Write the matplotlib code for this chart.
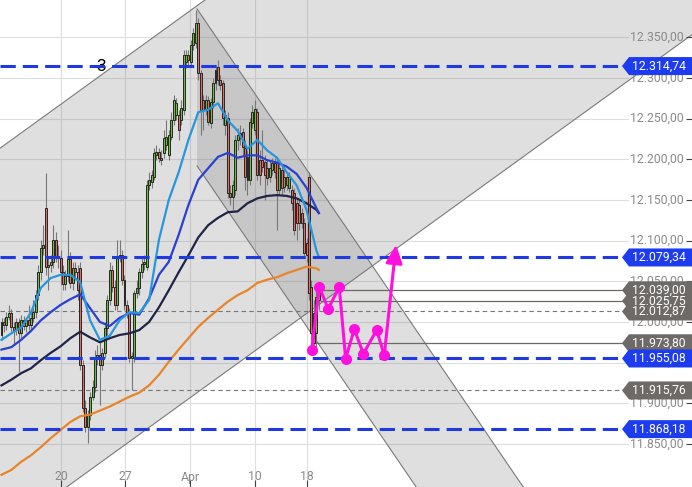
import matplotlib
matplotlib.use("Agg")
import matplotlib.pyplot as plt
from matplotlib.patches import Polygon
from matplotlib.transforms import blended_transform_factory

plt.rcParams['font.family'] = ['Roboto', 'DejaVu Sans']

# --- candles (one bar per index) ---
opens = [11984, 12000, 11996, 12006, 12011, 11994, 11990, 12000, 11986, 12002,
         11995, 12002, 11996, 12005, 12012, 12033, 12061, 12091, 12140, 12068,
         12070, 12074, 12101, 12081, 12079, 12061, 12047, 12057, 12077, 12048,
         12066, 12061, 12066, 11947, 11894, 11871, 11886, 11908, 11920, 11956,
         11959, 11947, 11962, 11993, 12027, 12064, 12043, 12021, 12080, 12082,
         12052, 12021, 12011, 11956, 11956, 12036, 12042, 12061, 12071, 12068,
         12168, 12172, 12178, 12205, 12209, 12202, 12208, 12218, 12205, 12227,
         12248, 12255, 12255, 12248, 12261, 12320, 12328, 12320, 12341, 12343,
         12368, 12306, 12273, 12261, 12273, 12245, 12271, 12294, 12314, 12298,
         12294, 12242, 12251, 12159, 12154, 12162, 12224, 12232, 12234, 12214,
         12203, 12175, 12245, 12236, 12258, 12199, 12199, 12197, 12189, 12178,
         12187, 12196, 12196, 12162, 12187, 12166, 12178, 12165, 12162, 12159,
         12146, 12144, 12134, 12122, 12097, 12178, 12043, 12011, 11986, 12027]
closes = [12000, 11996, 12006, 12011, 11994, 11990, 12000, 11986, 12002, 11995,
          12002, 11996, 12005, 12012, 12033, 12061, 12091, 12095, 12068, 12070,
          12074, 12101, 12081, 12079, 12061, 12047, 12057, 12077, 12048, 12066,
          12061, 12039, 11947, 11894, 11871, 11886, 11908, 11920, 11956, 11959,
          11947, 11962, 11993, 12027, 12064, 12043, 12021, 12080, 12082, 12052,
          12021, 12011, 11956, 11958, 12036, 12042, 12061, 12071, 12074, 12168,
          12175, 12181, 12208, 12209, 12202, 12199, 12226, 12227, 12230, 12248,
          12273, 12269, 12236, 12263, 12328, 12328, 12322, 12341, 12355, 12368,
          12306, 12261, 12261, 12273, 12246, 12271, 12294, 12310, 12298, 12291,
          12251, 12255, 12159, 12154, 12168, 12224, 12230, 12226, 12215, 12178,
          12175, 12246, 12258, 12262, 12181, 12181, 12191, 12181, 12177, 12189,
          12196, 12184, 12162, 12189, 12165, 12178, 12168, 12178, 12146, 12113,
          12122, 12122, 12122, 12085, 12082, 12036, 11986, 11974, 12031, 12039]
highs = [12005, 12005, 12012, 12021, 12016, 12000, 12005, 12005, 12009, 12007,
         12005, 12021, 12012, 12027, 12039, 12070, 12101, 12119, 12183, 12079,
         12082, 12119, 12111, 12095, 12088, 12070, 12064, 12113, 12086, 12074,
         12074, 12070, 12074, 11953, 11904, 11892, 11914, 11929, 11966, 11972,
         11975, 11968, 12000, 12033, 12074, 12070, 12052, 12101, 12101, 12088,
         12058, 12027, 12017, 11963, 12039, 12052, 12066, 12079, 12082, 12175,
         12184, 12187, 12214, 12218, 12214, 12211, 12236, 12248, 12236, 12258,
         12279, 12275, 12261, 12273, 12334, 12334, 12334, 12347, 12362, 12384,
         12374, 12310, 12279, 12279, 12278, 12275, 12300, 12316, 12322, 12304,
         12298, 12261, 12258, 12168, 12175, 12230, 12239, 12242, 12239, 12224,
         12211, 12251, 12267, 12273, 12263, 12211, 12236, 12205, 12199, 12199,
         12202, 12202, 12202, 12199, 12193, 12187, 12184, 12184, 12168, 12165,
         12153, 12150, 12140, 12128, 12103, 12184, 12052, 12027, 12039, 12045]
lows = [11978, 11988, 11990, 12002, 11988, 11972, 11984, 11938, 11980, 11990,
        11988, 11990, 11990, 12000, 12005, 12027, 12052, 12082, 12058, 12039,
        12061, 12066, 12074, 12066, 12045, 12039, 12039, 12049, 12042, 12039,
        12052, 12027, 11941, 11889, 11865, 11851, 11879, 11904, 11914, 11947,
        11898, 11941, 11956, 11984, 12021, 12037, 12015, 12015, 12074, 12045,
        12015, 12005, 11951, 11916, 11951, 12029, 12033, 12054, 12064, 12064,
        12162, 12165, 12175, 12199, 12197, 12193, 12202, 12211, 12199, 12224,
        12242, 12248, 12224, 12242, 12255, 12312, 12316, 12315, 12334, 12337,
        12298, 12230, 12236, 12255, 12242, 12239, 12263, 12285, 12291, 12285,
        12242, 12230, 12153, 12144, 12138, 12156, 12211, 12218, 12205, 12162,
        12156, 12168, 12239, 12230, 12175, 12168, 12184, 12150, 12168, 12172,
        12181, 12177, 12113, 12156, 12156, 12160, 12162, 12160, 12138, 12107,
        12101, 12113, 12116, 12079, 12074, 12027, 11978, 11966, 11968, 12015]

# --- moving averages, read every 4 bars ---
ma_idx = list(range(0, 129, 4)) + [129]
ma_fast = [11978, 11986, 11993, 12012, 12042, 12054, 12058, 12058, 12049, 12002,
           11978, 11983, 12002, 12012, 12011, 12027, 12101, 12150, 12184, 12224,
           12258, 12261, 12269, 12248, 12235, 12213, 12224, 12211, 12202, 12184,
           12168, 12138, 12088, 12080]
ma_mid = [11966, 11969, 11978, 11989, 12002, 12012, 12021, 12028, 12034, 12017,
          12000, 11995, 12005, 12011, 12009, 12029, 12058, 12074, 12107, 12144,
          12175, 12189, 12203, 12208, 12202, 12205, 12205, 12199, 12196, 12191,
          12182, 12165, 12140, 12134]
ma_slow = [11922, 11929, 11937, 11943, 11953, 11962, 11970, 11980, 11988, 11981,
           11975, 11980, 11984, 11986, 11990, 12000, 12018, 12039, 12061, 12082,
           12104, 12119, 12128, 12135, 12136, 12146, 12152, 12155, 12156, 12155,
           12152, 12146, 12138, 12134]
ma_long = [11812, 11818, 11828, 11836, 11846, 11857, 11867, 11877, 11884, 11886,
           11891, 11896, 11902, 11908, 11913, 11922, 11935, 11951, 11966, 11980,
           11994, 12005, 12015, 12025, 12033, 12039, 12048, 12052, 12055, 12060,
           12064, 12068, 12066, 12064]

date_pos = [24.2, 50.2, 76.6, 103.0, 124.2]
date_labels = ['20', '27', 'Apr', '10', '18']

blue_levels = [12314.74, 12079.34, 11955.08, 11868.18]
gray_levels = [12039.00, 12025.75, 11973.80]
gray_level_start = [129.0, 130.0, 127.5]
dash_levels = [12012.87, 11915.76]

# projected path
proj_x = [126.1, 129.2, 132.8, 137.3, 139.9, 143.4, 147.1, 152.5, 155.6]
proj_y = [11966, 12043, 12016, 12043, 11955, 11991, 11961, 11990, 11959]
target_x, target_y = 160.4, 12095

# channels: two points on the upper line + width in points
asc_pts = [(0, 12215), (79.5, 12389)]
asc_width = 476
desc_pts = [(79.5, 12385), (124.6, 12185)]
desc_width = 193

XMIN, XMAX = -0.61, 280.7
YMIN, YMAX = 11797, 12396
W, H = 692, 487

fig = plt.figure(figsize=(W / 100, H / 100), dpi=100)
ax = fig.add_axes([0, 0, 1, 1])
ax.set_xlim(XMIN, XMAX)
ax.set_ylim(YMIN, YMAX)
for s in ax.spines.values():
    s.set_visible(False)


def de(v):
    return f"{v:,.2f}".replace(',', 'X').replace('.', ',').replace('X', '.')


def line_at(pts, x):
    (x0, y0), (x1, y1) = pts
    return y0 + (y1 - y0) / (x1 - x0) * (x - x0)


# grid
yticks = list(range(11850, 12351, 50))
for t in yticks:
    ax.axhline(t, xmax=628 / W, color='#dedede', lw=0.8, zorder=0)
for p in date_pos:
    ax.axvline(p, color='#dedede', lw=0.8, zorder=0)

# ascending channel
xa = [XMIN, XMAX]
up = [line_at(asc_pts, x) for x in xa]
lo = [u - asc_width for u in up]
ax.fill_between(xa, lo, up, color='#808080', alpha=0.25, lw=0, zorder=1)
ax.plot(xa, up, color='#7a7a7a', lw=0.8, zorder=1.5)
ax.plot(xa, lo, color='#7a7a7a', lw=0.8, zorder=1.5)

# descending channel
xd = [desc_pts[0][0], XMAX]
up = [line_at(desc_pts, x) for x in xd]
lo = [u - desc_width for u in up]
ax.fill_between(xd, lo, up, color='#808080', alpha=0.25, lw=0, zorder=1)
ax.plot(xd, up, color='#7a7a7a', lw=0.8, zorder=1.5)
ax.plot(xd, lo, color='#7a7a7a', lw=0.8, zorder=1.5)

ax.text(40.4, 12314, '3', fontsize=12.5, color='black', ha='center', va='center', zorder=5)

# level lines
x_end = 622 / W
for lv, st in zip(gray_levels, gray_level_start):
    ax.axhline(lv, xmin=(st - XMIN) / (XMAX - XMIN), xmax=x_end, color='#6b6866', lw=0.9, zorder=2.5)
for lv in dash_levels:
    ax.axhline(lv, xmax=x_end, color='#777777', lw=0.8, ls=(0, (4, 3)), zorder=2.5)

# candles
idx = list(range(len(closes)))
ax.vlines(idx, lows, highs, color='#777777', lw=0.8, zorder=3)
bottoms = [min(o, c) for o, c in zip(opens, closes)]
heights = [max(abs(c - o), 1.0) for o, c in zip(opens, closes)]
colors = ['#6cbf3c' if c >= o else '#e36b60' for o, c in zip(opens, closes)]
ax.bar(idx, heights, bottom=bottoms, width=0.8, color=colors,
       edgecolor='#262626', linewidth=0.7, zorder=3.2)

# moving averages
ax.plot(ma_idx, ma_long, color='#e8842a', lw=1.6, zorder=4)
ax.plot(ma_idx, ma_slow, color='#1f2447', lw=1.6, zorder=4)
ax.plot(ma_idx, ma_mid, color='#2a40d0', lw=1.6, zorder=4)
ax.plot(ma_idx, ma_fast, color='#2896dc', lw=1.6, zorder=4)

# blue dashed levels
for lv in blue_levels:
    ax.axhline(lv, xmax=x_end, color='#1f3ae0', lw=2.2, dashes=(5, 2.3), zorder=5)

# projection
mag = '#ff10dd'
ax.plot(proj_x, proj_y, color=mag, lw=2.2, marker='o', ms=7, zorder=6)
ax.annotate('', xy=(target_x, target_y), xytext=(proj_x[-1], proj_y[-1]),
            arrowprops=dict(arrowstyle='-|>,head_length=1.1,head_width=0.5',
                            color=mag, lw=2.2, shrinkA=0, shrinkB=0),
            zorder=6)

# axis ticks / labels
ax.set_yticks(yticks)
ax.set_xticks(date_pos)
ax.tick_params(axis='y', direction='in', length=4, left=False, right=True,
               labelleft=False, labelright=False, color='#444444')
ax.tick_params(axis='x', direction='in', length=5, bottom=True, top=False,
               labelbottom=False, color='#444444')
for t in yticks:
    ax.text(684 / W, (t - YMIN) / (YMAX - YMIN), de(t), transform=ax.transAxes,
            ha='right', va='center', color='#8a8a8a', fontsize=8.8, zorder=7)
trans = blended_transform_factory(ax.transData, ax.transAxes)
for p, lab in zip(date_pos, date_labels):
    ax.text(p, (H - 477) / H, lab, transform=trans, ha='center', va='center',
            color='#8a8a8a', fontsize=8.8, zorder=7)

# price tags on the right: boxes first, then all texts on top
tags = [(lv, '#6e6a68') for lv in gray_levels + dash_levels] + \
       [(lv, '#1d3cf0') for lv in blue_levels]
for price, color in tags:
    yf = (price - YMIN) / (YMAX - YMIN)
    h = 9 / H
    x0, x1 = 622 / W, 629 / W
    ax.add_patch(Polygon([(x0, yf), (x1, yf + h), (1.0, yf + h), (1.0, yf - h), (x1, yf - h)],
                         closed=True, transform=ax.transAxes, facecolor=color,
                         edgecolor='none', zorder=8, clip_on=False))
for price, color in tags:
    yf = (price - YMIN) / (YMAX - YMIN)
    ax.text(659 / W, yf, de(price), transform=ax.transAxes, ha='center', va='center',
            color='white', fontsize=8.8, zorder=9)

fig.savefig('out.png', dpi=100)
